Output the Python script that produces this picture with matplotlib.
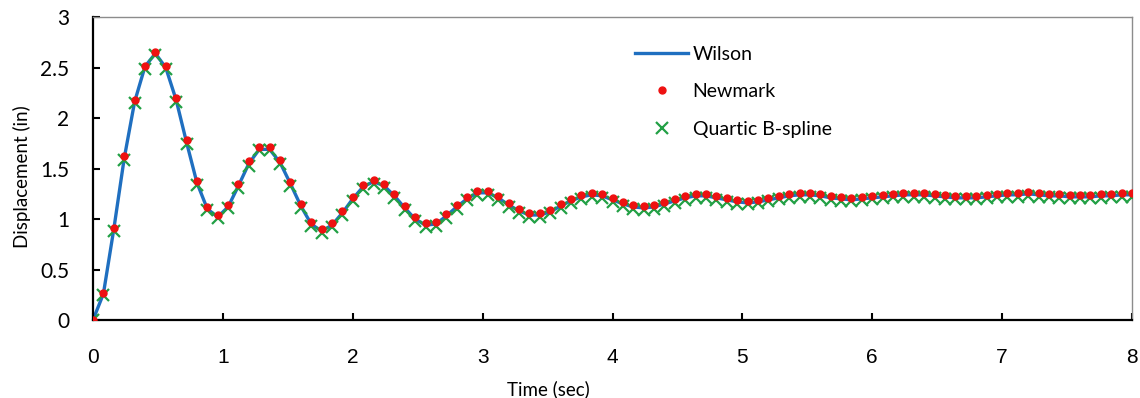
import numpy as np
import matplotlib
matplotlib.use("Agg")
import matplotlib.pyplot as plt

# time step of 0.08 s over 8 s
time = np.linspace(0, 8, 101)

wilson = [0.00, 0.26, 0.90, 1.60, 2.16, 2.51, 2.64, 2.50, 2.18, 1.76,
          1.36, 1.10, 1.02, 1.12, 1.33, 1.55, 1.69, 1.69, 1.56, 1.35,
          1.13, 0.95, 0.88, 0.94, 1.06, 1.20, 1.32, 1.37, 1.33, 1.23,
          1.11, 1.00, 0.94, 0.95, 1.03, 1.12, 1.20, 1.26, 1.26, 1.21,
          1.14, 1.08, 1.04, 1.04, 1.07, 1.13, 1.18, 1.22, 1.24, 1.23,
          1.19, 1.15, 1.12, 1.11, 1.12, 1.15, 1.18, 1.21, 1.23, 1.23,
          1.21, 1.19, 1.17, 1.16, 1.17, 1.19, 1.21, 1.23, 1.24, 1.24,
          1.23, 1.21, 1.20, 1.19, 1.20, 1.21, 1.22, 1.23, 1.24, 1.24,
          1.24, 1.23, 1.22, 1.21, 1.21, 1.21, 1.22, 1.23, 1.24, 1.24,
          1.25, 1.24, 1.23, 1.23, 1.22, 1.22, 1.22, 1.23, 1.23, 1.24,
          1.24]

newmark = [0.00, 0.27, 0.91, 1.62, 2.18, 2.52, 2.65, 2.52, 2.20, 1.78,
           1.38, 1.12, 1.04, 1.14, 1.35, 1.57, 1.71, 1.71, 1.58, 1.37,
           1.15, 0.97, 0.90, 0.96, 1.08, 1.22, 1.34, 1.39, 1.35, 1.25,
           1.13, 1.02, 0.96, 0.97, 1.05, 1.14, 1.22, 1.28, 1.28, 1.23,
           1.16, 1.10, 1.06, 1.06, 1.09, 1.15, 1.20, 1.24, 1.26, 1.25,
           1.21, 1.17, 1.14, 1.13, 1.14, 1.17, 1.20, 1.23, 1.25, 1.25,
           1.23, 1.21, 1.19, 1.18, 1.19, 1.21, 1.23, 1.25, 1.26, 1.26,
           1.25, 1.23, 1.22, 1.21, 1.22, 1.23, 1.24, 1.25, 1.26, 1.26,
           1.26, 1.25, 1.24, 1.23, 1.23, 1.23, 1.24, 1.25, 1.26, 1.26,
           1.27, 1.26, 1.25, 1.25, 1.24, 1.24, 1.24, 1.25, 1.25, 1.26,
           1.26]

quartic = [0.00, 0.25, 0.88, 1.58, 2.15, 2.49, 2.62, 2.49, 2.16, 1.74,
           1.34, 1.09, 1.01, 1.11, 1.31, 1.53, 1.68, 1.68, 1.55, 1.33,
           1.11, 0.93, 0.86, 0.92, 1.04, 1.18, 1.30, 1.35, 1.31, 1.21,
           1.09, 0.98, 0.92, 0.93, 1.01, 1.10, 1.19, 1.24, 1.24, 1.19,
           1.12, 1.06, 1.02, 1.02, 1.06, 1.11, 1.16, 1.20, 1.22, 1.21,
           1.17, 1.13, 1.10, 1.09, 1.10, 1.13, 1.16, 1.19, 1.21, 1.21,
           1.19, 1.17, 1.15, 1.15, 1.16, 1.18, 1.20, 1.21, 1.22, 1.22,
           1.21, 1.19, 1.18, 1.18, 1.19, 1.20, 1.21, 1.22, 1.22, 1.22,
           1.22, 1.21, 1.20, 1.20, 1.20, 1.20, 1.21, 1.22, 1.22, 1.22,
           1.23, 1.22, 1.22, 1.21, 1.21, 1.21, 1.21, 1.21, 1.22, 1.22,
           1.22]

x_ticks = [0, 1, 2, 3, 4, 5, 6, 7, 8]
y_ticks = [0, 0.5, 1, 1.5, 2, 2.5, 3]
y_tick_labels = ["0", "0.5", "1", "1.5", "2", "2.5", "3"]

SANS = ["Lato", "DejaVu Sans"]


def make_fig():
    fig = plt.figure(figsize=(11.4, 3.98), dpi=100)
    ax = fig.add_axes([0.0816, 0.196, 0.9114, 0.761])

    ax.plot(time, wilson, color="#1f6fc0", lw=2.4, label="Wilson", zorder=2)
    ax.plot(time, newmark, ls="none", marker="o", ms=5, color="#ee1111",
            label="Newmark", zorder=4)
    ax.plot(time, quartic, ls="none", marker="x", ms=8, mew=1.6,
            color="#22a045", label="Quartic B-spline", zorder=3)

    ax.set_xlim(0, 8)
    ax.set_ylim(0, 3)
    ax.set_xticks(x_ticks)
    ax.set_xticklabels([str(v) for v in x_ticks], family="Liberation Sans",
                       fontsize=15)
    ax.set_yticks(y_ticks)
    ax.set_yticklabels(y_tick_labels, family=SANS, fontsize=15)
    ax.tick_params(axis="x", direction="in", length=5, width=1.5, pad=20)
    ax.tick_params(axis="y", direction="in", length=5, width=1.5, pad=17)

    for side in ["left", "bottom"]:
        ax.spines[side].set_linewidth(1.6)
        ax.spines[side].set_color("black")
    for side in ["top", "right"]:
        ax.spines[side].set_linewidth(1.0)
        ax.spines[side].set_color("#8c8c8c")

    ax.set_xlabel("Time (sec)", family=SANS, fontsize=13.5, labelpad=5)
    ax.xaxis.set_label_coords(0.438, -0.2)
    ax.set_ylabel("Displacement (in)", family=SANS, fontsize=13.5)
    ax.yaxis.set_label_coords(-0.06, 0.472)

    ax.legend(loc="upper left", bbox_to_anchor=(0.522, 0.905), frameon=False,
              prop={"family": SANS, "size": 14}, handlelength=2.7,
              handletextpad=0.25, labelspacing=1.05, borderpad=0,
              borderaxespad=0)
    return fig


def main():
    fig = make_fig()
    fig.savefig("out.png", dpi=100)


if __name__ == "__main__":
    main()
